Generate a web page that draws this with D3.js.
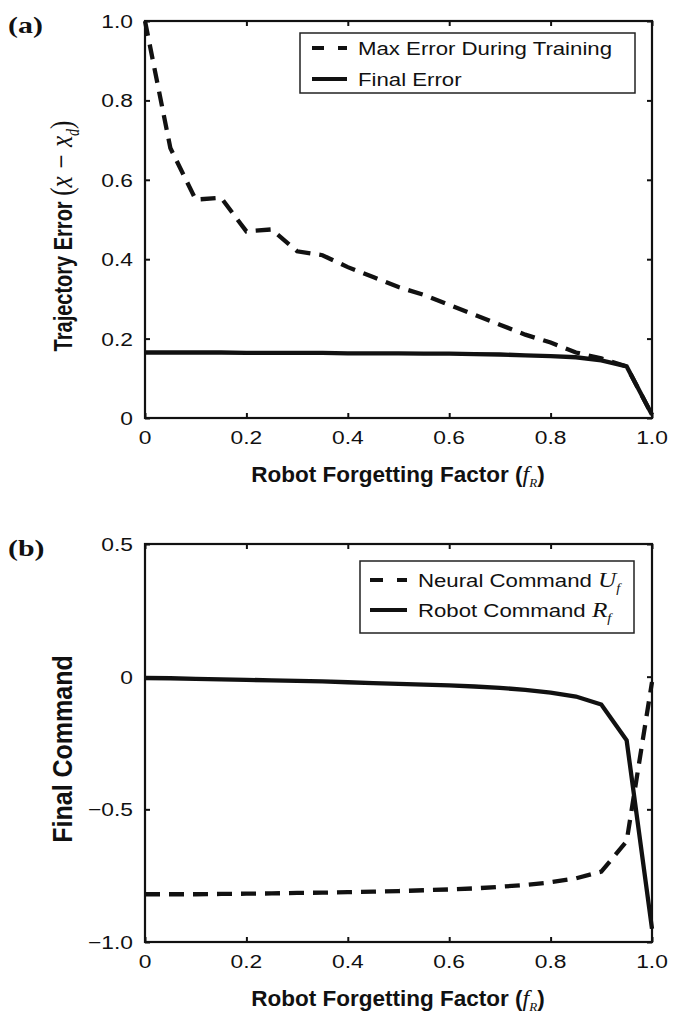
<!DOCTYPE html>
<html>
<head>
<meta charset="utf-8">
<script src="https://cdn.jsdelivr.net/npm/d3@7"></script>
<style>
  body { margin: 0; background: #fff; }
  svg { display: block; }
  text { font-family: "Liberation Sans", Arial, sans-serif; fill: #111; }
</style>
</head>
<body>
<svg id="chart" width="673" height="1015"></svg>
<script>
const W = 673;
const H = 1015;
const SX = 1.2; // the figure's small text is a bit wider than plain Arial
const SERIF = '"Liberation Serif", "Times New Roman", serif';

// shared x values (robot forgetting factor)
const forgetting = [0, 0.05, 0.1, 0.15, 0.2, 0.25, 0.3, 0.35, 0.4, 0.45, 0.5,
                    0.55, 0.6, 0.65, 0.7, 0.75, 0.8, 0.85, 0.9, 0.95, 1.0];

// panel (a)
const maxError = [1.0, 0.68, 0.55, 0.555, 0.47, 0.475, 0.42, 0.41, 0.38, 0.355, 0.33,
                  0.31, 0.285, 0.26, 0.235, 0.21, 0.19, 0.165, 0.15, 0.13, 0.008];
const finalError = [0.165, 0.165, 0.165, 0.165, 0.164, 0.164, 0.164, 0.164, 0.163, 0.163, 0.163,
                    0.162, 0.162, 0.161, 0.16, 0.158, 0.156, 0.153, 0.145, 0.13, 0.008];

// panel (b)
const neuralCmd = [-0.82, -0.82, -0.82, -0.819, -0.818, -0.817, -0.815, -0.814, -0.812, -0.81, -0.808,
                   -0.805, -0.802, -0.798, -0.792, -0.785, -0.775, -0.76, -0.735, -0.62, -0.02];
const robotCmd = [-0.005, -0.006, -0.008, -0.01, -0.012, -0.014, -0.016, -0.018, -0.021, -0.024, -0.027,
                  -0.03, -0.033, -0.037, -0.042, -0.05, -0.06, -0.075, -0.105, -0.24, -0.95];

const xTicks = [0, 0.2, 0.4, 0.6, 0.8, 1.0];
const xTickLabels = ['0', '0.2', '0.4', '0.6', '0.8', '1.0'];
const yTicksA = [0, 0.2, 0.4, 0.6, 0.8, 1.0];
const yTickLabelsA = ['0', '0.2', '0.4', '0.6', '0.8', '1.0'];
const yTicksB = [-1.0, -0.5, 0, 0.5];
const yTickLabelsB = ['\u22121.0', '\u22120.5', '0', '0.5'];

const svg = d3.select('#chart');

const LEFT = 145;
const RIGHT = 652;

function stretchedText(parent, x, y, anchor, sx) {
    return parent.append('text')
        .attr('transform', 'translate(' + x + ',' + y + ') scale(' + (sx || SX) + ',1)')
        .attr('text-anchor', anchor);
}

function drawPanel(opts) {
    const g = svg.append('g');
    const x = d3.scaleLinear().domain([0, 1]).range([LEFT, RIGHT]);
    const y = d3.scaleLinear().domain(opts.yDomain).range([opts.bottom, opts.top]);

    // ticks on all four sides, pointing inward
    const tl = 5;
    const xAxisB = d3.axisBottom(x).tickValues(xTicks).tickSize(-tl).tickFormat('');
    const xAxisT = d3.axisTop(x).tickValues(xTicks).tickSize(-tl).tickFormat('');
    const yAxisL = d3.axisLeft(y).tickValues(opts.yTicks).tickSize(-tl).tickFormat('');
    const yAxisR = d3.axisRight(y).tickValues(opts.yTicks).tickSize(-tl).tickFormat('');

    g.append('g').attr('transform', 'translate(0,' + opts.bottom + ')').call(xAxisB);
    g.append('g').attr('transform', 'translate(0,' + opts.top + ')').call(xAxisT);
    g.append('g').attr('transform', 'translate(' + LEFT + ',0)').call(yAxisL);
    g.append('g').attr('transform', 'translate(' + RIGHT + ',0)').call(yAxisR);
    g.selectAll('.domain').remove();
    g.selectAll('.tick line').attr('stroke', '#111').attr('stroke-width', 2);

    g.append('rect')
        .attr('x', LEFT).attr('y', opts.top)
        .attr('width', RIGHT - LEFT).attr('height', opts.bottom - opts.top)
        .attr('fill', 'none').attr('stroke', '#111').attr('stroke-width', 2.2);

    // tick labels
    xTicks.forEach((v, i) => {
        stretchedText(g, x(v), opts.bottom + 26, 'middle')
            .style('font-size', '19px')
            .text(xTickLabels[i]);
    });
    opts.yTicks.forEach((v, i) => {
        stretchedText(g, LEFT - 12, y(v) + 7, 'end')
            .style('font-size', '19px')
            .text(opts.yTickLabels[i]);
    });

    // lines
    const line = d3.line()
        .x((d, i) => x(forgetting[i]))
        .y(d => y(d));

    opts.series.forEach(s => {
        g.append('path')
            .datum(s.values)
            .attr('d', line)
            .attr('fill', 'none')
            .attr('stroke', '#111')
            .attr('stroke-width', 4.3)
            .attr('stroke-linejoin', 'miter')
            .attr('stroke-dasharray', s.dashed ? '15,9' : null);
    });

    // x title
    const xt = g.append('text')
        .attr('x', 398).attr('y', opts.bottom + 64)
        .attr('text-anchor', 'middle')
        .style('font-size', '22.5px').style('font-weight', 'bold');
    xt.append('tspan').text('Robot Forgetting Factor (');
    xt.append('tspan').text('f').style('font-family', SERIF)
        .style('font-style', 'italic').style('font-weight', 'normal').style('font-size', '24px');
    xt.append('tspan').text('R').attr('dy', 5).style('font-size', '13px')
        .style('font-family', SERIF)
        .style('font-style', 'italic').style('font-weight', 'normal');
    xt.append('tspan').text(')').attr('dy', -5);

    // y title (rotated; glyphs widened in page x like the original)
    const yt = g.append('text')
        .attr('transform', 'translate(72,' + opts.yTitleCenter + ') rotate(-90) scale(1,' + opts.yTitleK + ')')
        .attr('text-anchor', 'middle')
        .style('font-size', opts.yTitleSize).style('font-weight', 'bold');
    opts.yTitle(yt);

    // panel letter
    stretchedText(g, 8, opts.top + 12, 'start', 1.3)
        .style('font-family', SERIF)
        .style('font-size', '23px').style('font-weight', 'bold')
        .text(opts.letter);

    // legend
    const lg = opts.legend;
    g.append('rect')
        .attr('x', lg.x).attr('y', lg.y)
        .attr('width', lg.w).attr('height', lg.h)
        .attr('fill', '#fff').attr('stroke', '#222').attr('stroke-width', 1.5);
    opts.series.forEach((s, i) => {
        const yy = lg.y + lg.rowY[i];
        g.append('line')
            .attr('x1', lg.x + lg.lineX0).attr('x2', lg.x + lg.lineX1)
            .attr('y1', yy).attr('y2', yy)
            .attr('stroke', '#111').attr('stroke-width', 4)
            .attr('stroke-dasharray', s.dashed ? lg.dash : null);
        const t = stretchedText(g, lg.x + lg.textX, yy + 6.5, 'start')
            .style('font-size', '18.5px');
        s.label(t);
    });
}

function mathSub(t, main, sub) {
    t.append('tspan').text(main)
        .style('font-family', SERIF)
        .style('font-style', 'italic').style('font-size', '21px');
    t.append('tspan').text(sub).attr('dy', 5)
        .style('font-family', SERIF)
        .style('font-style', 'italic').style('font-size', '12px');
    t.append('tspan').attr('dy', -5).text('');
}

drawPanel({
    letter: '(a)',
    top: 21,
    bottom: 418,
    yDomain: [0, 1],
    yTicks: yTicksA,
    yTickLabels: yTickLabelsA,
    series: [
        { values: maxError, dashed: true, label: t => t.text('Max Error During Training') },
        { values: finalError, dashed: false, label: t => t.text('Final Error') }
    ],
    legend: { x: 300, y: 33, w: 335, h: 60, rowY: [15, 46], lineX0: 12, lineX1: 47, textX: 58, dash: '12,14' },
    yTitleCenter: 236,
    yTitleK: 1.3,
    yTitleSize: '20px',
    yTitle: t => {
        t.append('tspan').text('Trajectory Error ');
        const m = t.append('tspan').style('font-weight', 'normal').style('font-family', SERIF);
        m.append('tspan').text('(').style('font-size', '25px');
        m.append('tspan').text('x \u2212 x').style('font-style', 'italic').style('font-size', '25px');
        m.append('tspan').text('d').attr('dy', 5).style('font-style', 'italic').style('font-size', '14px');
        m.append('tspan').text(')').attr('dy', -5).style('font-size', '25px');
    }
});

drawPanel({
    letter: '(b)',
    top: 544,
    bottom: 942,
    yDomain: [-1, 0.5],
    yTicks: yTicksB,
    yTickLabels: yTickLabelsB,
    series: [
        { values: neuralCmd, dashed: true, label: t => { t.append('tspan').text('Neural Command '); mathSub(t, 'U', 'f'); } },
        { values: robotCmd, dashed: false, label: t => { t.append('tspan').text('Robot Command  '); mathSub(t, 'R', 'f'); } }
    ],
    legend: { x: 360, y: 561, w: 274, h: 72, rowY: [19, 49], lineX0: 10, lineX1: 47, textX: 58, dash: '13,14' },
    yTitleCenter: 749,
    yTitleK: 1.12,
    yTitleSize: '25px',
    yTitle: t => t.text('Final Command')
});
</script>
</body>
</html>
